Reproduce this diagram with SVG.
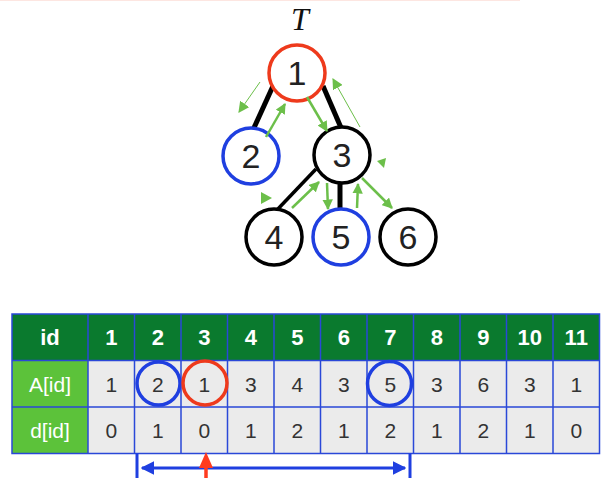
<svg xmlns="http://www.w3.org/2000/svg" width="605" height="478" viewBox="0 0 605 478">
<style>
.node{fill:#fff;stroke-width:3.5}
.nt{font-family:"Liberation Sans",Arial,sans-serif;font-size:34px;fill:#222;text-anchor:middle}
.edge{stroke:#000;stroke-linecap:butt}
.g{stroke:#6cbf4a;fill:none}
.gh{fill:#6cbf4a}
.hd{fill:#0a7a2e}
.lb{fill:#5cc23a}
.cell{fill:#ebebeb}
.grid{stroke:#2a48d8;stroke-width:1.5;fill:none}
.ht{font-family:"Liberation Sans",Arial,sans-serif;font-size:22px;font-weight:bold;fill:#fff;text-anchor:middle}
.lt{font-family:"Liberation Sans",Arial,sans-serif;font-size:21px;fill:#fff;text-anchor:middle}
.ct{font-family:"Liberation Sans",Arial,sans-serif;font-size:21px;fill:#333;text-anchor:middle}
.bl{stroke:#1f3fe0;stroke-width:3;fill:none}
</style>
<defs>
<marker id="ga" viewBox="0 0 10 10" refX="9" refY="5" markerWidth="4.2" markerHeight="4.2" orient="auto" markerUnits="strokeWidth"><path d="M0,0 L10,5 L0,10 z" fill="#6cbf4a"/></marker>
<marker id="gat" viewBox="0 0 10 10" refX="9" refY="5" markerWidth="11" markerHeight="11" orient="auto" markerUnits="strokeWidth"><path d="M0,0 L10,5 L0,10 z" fill="#6cbf4a"/></marker>
<marker id="ba" viewBox="0 0 10 10" refX="9" refY="5" markerWidth="4.5" markerHeight="4.5" orient="auto" markerUnits="strokeWidth"><path d="M0,0 L10,5 L0,10 z" fill="#1f3fe0"/></marker>
</defs>
<line x1="0" y1="0.5" x2="520" y2="0.5" stroke="#fde6e1" stroke-width="1"/>
<text x="300" y="30" font-family="Liberation Serif,Times New Roman,serif" font-style="italic" font-size="32" fill="#111" text-anchor="middle">T</text>
<g id="edges">
<line class="edge" x1="273" y1="86" x2="253" y2="130" stroke-width="5"/>
<line class="edge" x1="323" y1="86" x2="342" y2="130" stroke-width="5"/>
<line class="edge" x1="316" y1="169" x2="276" y2="211" stroke-width="3.5"/>
<line class="edge" x1="340" y1="180" x2="340" y2="211" stroke-width="5"/>
</g>
<g id="node1"><circle class="node" cx="297" cy="73" r="28" stroke="#ee3a1c"/><text class="nt" x="297" y="85">1</text></g>
<g id="node2"><circle class="node" cx="251" cy="156" r="28" stroke="#1f3fe0"/><text class="nt" x="251" y="168">2</text></g>
<g id="node3"><circle class="node" cx="342" cy="155" r="28" stroke="#000"/><text class="nt" x="342" y="167">3</text></g>
<g id="node4"><circle class="node" cx="274" cy="237" r="28" stroke="#000"/><text class="nt" x="274" y="249">4</text></g>
<g id="node5"><circle class="node" cx="341" cy="237" r="28" stroke="#1f3fe0"/><text class="nt" x="341" y="249">5</text></g>
<g id="node6"><circle class="node" cx="408" cy="237" r="28" stroke="#000"/><text class="nt" x="408" y="249">6</text></g>
<g id="tour">
<line class="g" x1="260" y1="82" x2="239" y2="112" stroke-width="1" marker-end="url(#gat)"/>
<line class="g" x1="266" y1="137" x2="285" y2="104" stroke-width="2.5" marker-end="url(#ga)"/>
<line class="g" x1="307" y1="97" x2="327" y2="131" stroke-width="2.5" marker-end="url(#ga)"/>
<line class="g" x1="360" y1="127" x2="333" y2="79" stroke-width="1" marker-end="url(#gat)"/>
<line class="g" x1="292" y1="208" x2="319" y2="182" stroke-width="2.5" marker-end="url(#ga)"/>
<line class="g" x1="327" y1="183" x2="328" y2="209" stroke-width="2.5" marker-end="url(#ga)"/>
<line class="g" x1="357" y1="208" x2="358" y2="184" stroke-width="2.5" marker-end="url(#ga)"/>
<line class="g" x1="362" y1="178" x2="392" y2="208" stroke-width="2.5" marker-end="url(#ga)"/>
<path class="gh" d="M377,161 L386,158 L384,168 z"/>
<path class="gh" d="M261,192 L272,198 L261,204 z"/>
</g>
<g id="table">
<rect class="hd" x="12" y="314" width="587.5" height="46.5"/>
<rect class="lb" x="12" y="360.5" width="76" height="93"/>
<rect class="cell" x="88" y="360.5" width="511.5" height="93"/>
<path class="grid" d="M12,314 H599.5 V453.5 H12 Z M12,360.5 H599.5 M12,407 H599.5 M88,314 V453.5 M134.5,314 V453.5 M181,314 V453.5 M227.5,314 V453.5 M274,314 V453.5 M320.5,314 V453.5 M367,314 V453.5 M413.5,314 V453.5 M460,314 V453.5 M506.5,314 V453.5 M553,314 V453.5"/>
<text class="ht" x="50" y="345">id</text>
<text class="ht" x="111.25" y="345">1</text>
<text class="ht" x="157.75" y="345">2</text>
<text class="ht" x="204.25" y="345">3</text>
<text class="ht" x="250.75" y="345">4</text>
<text class="ht" x="297.25" y="345">5</text>
<text class="ht" x="343.75" y="345">6</text>
<text class="ht" x="390.25" y="345">7</text>
<text class="ht" x="436.75" y="345">8</text>
<text class="ht" x="483.25" y="345">9</text>
<text class="ht" x="529.75" y="345">10</text>
<text class="ht" x="576.25" y="345">11</text>
<text class="lt" x="50" y="391.5">A[id]</text>
<text class="lt" x="50" y="438">d[id]</text>
<text class="ct" x="111.25" y="391.5">1</text>
<text class="ct" x="157.75" y="391.5">2</text>
<text class="ct" x="204.25" y="391.5">1</text>
<text class="ct" x="250.75" y="391.5">3</text>
<text class="ct" x="297.25" y="391.5">4</text>
<text class="ct" x="343.75" y="391.5">3</text>
<text class="ct" x="390.25" y="391.5">5</text>
<text class="ct" x="436.75" y="391.5">3</text>
<text class="ct" x="483.25" y="391.5">6</text>
<text class="ct" x="529.75" y="391.5">3</text>
<text class="ct" x="576.25" y="391.5">1</text>
<text class="ct" x="111.25" y="438">0</text>
<text class="ct" x="157.75" y="438">1</text>
<text class="ct" x="204.25" y="438">0</text>
<text class="ct" x="250.75" y="438">1</text>
<text class="ct" x="297.25" y="438">2</text>
<text class="ct" x="343.75" y="438">1</text>
<text class="ct" x="390.25" y="438">2</text>
<text class="ct" x="436.75" y="438">1</text>
<text class="ct" x="483.25" y="438">2</text>
<text class="ct" x="529.75" y="438">1</text>
<text class="ct" x="576.25" y="438">0</text>
<circle cx="158.5" cy="383.5" r="21.5" fill="none" stroke="#1f3fe0" stroke-width="3.5"/>
<circle cx="205" cy="383" r="22" fill="none" stroke="#ee3a1c" stroke-width="3.5"/>
<circle cx="389.5" cy="383.5" r="22" fill="none" stroke="#1f3fe0" stroke-width="3.5"/>
</g>
<g id="range">
<line class="bl" x1="137" y1="453" x2="137" y2="478"/>
<line class="bl" x1="410" y1="453" x2="410" y2="478"/>
<line class="bl" x1="160" y1="468" x2="142" y2="468" marker-end="url(#ba)"/>
<line class="bl" x1="160" y1="468" x2="405" y2="468" marker-end="url(#ba)"/>
<line x1="206" y1="478" x2="206" y2="460" stroke="#ff3b1f" stroke-width="3.5"/>
<path d="M206,452 L213,468 L199,468 z" fill="#ff3b1f"/>
</g>
</svg>
